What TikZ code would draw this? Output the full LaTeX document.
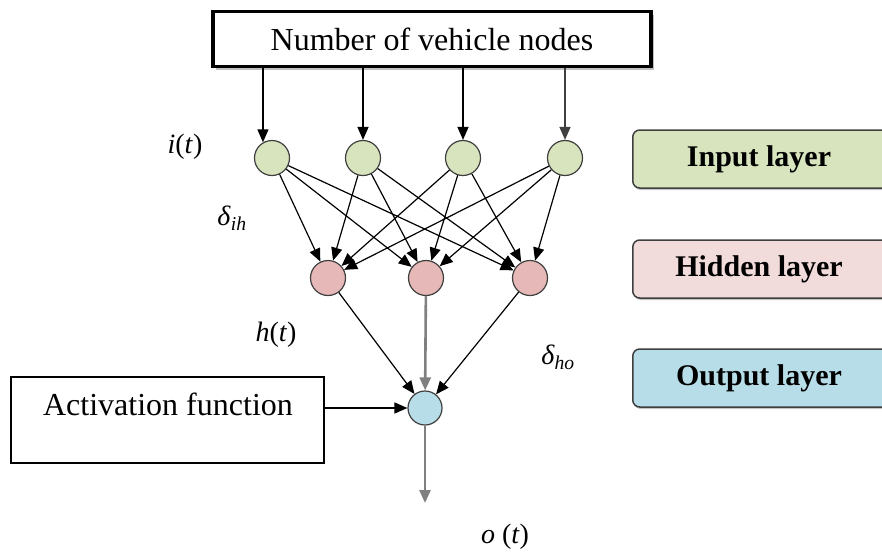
\documentclass[tikz,border=0pt]{standalone}
\usepackage{fontspec}
\setmainfont{Liberation Serif}
\usetikzlibrary{arrows.meta,shadows,calc}
\definecolor{ingreen}{HTML}{D7E4BD}
\definecolor{hidpink}{HTML}{E6B9B8}
\definecolor{hidbox}{HTML}{F2DCDB}
\definecolor{outblue}{HTML}{B7DEE8}
\definecolor{edgegray}{HTML}{3F3F3F}
\tikzset{
  neuron/.style={circle, draw=edgegray, line width=1.2pt, minimum size=35pt, inner sep=0pt},
  tip/.style={-{Triangle[length=13pt,width=11pt]}},
  arr/.style={tip, line width=1.4pt, black},
  layerbox/.style={rounded corners=7pt, draw=edgegray, line width=1.5pt, minimum height=58pt, minimum width=270pt, anchor=west,
    drop shadow={shadow xshift=1pt, shadow yshift=-2pt, opacity=0.45}},
  layertext/.style={font=\fontsize{30}{36}\selectfont\bfseries},
  lbl/.style={font=\fontsize{28}{34}\selectfont},
}
\begin{document}
\begin{tikzpicture}[x=1pt,y=-1pt]
\useasboundingbox (0,0) rectangle (882,552);
\clip (0,0) rectangle (882,552);
\fill[white] (0,0) rectangle (882,552);
% top box
\node[draw, line width=3.2pt, fill=white, minimum width=438pt, minimum height=55pt, inner sep=0pt,
  drop shadow={shadow xshift=2.5pt, shadow yshift=-3pt, opacity=0.5},
  font=\fontsize{32}{38}\selectfont] (top) at (432,39) {Number of vehicle nodes};
% input nodes
\node[neuron, fill=ingreen] (i1) at (272,158) {};
\node[neuron, fill=ingreen] (i2) at (363,158) {};
\node[neuron, fill=ingreen] (i3) at (463,158) {};
\node[neuron, fill=ingreen] (i4) at (565,158) {};
% hidden nodes
\node[neuron, fill=hidpink] (h1) at (328,278) {};
\node[neuron, fill=hidpink] (h2) at (426,278) {};
\node[neuron, fill=hidpink] (h3) at (530,278) {};
% output node
\node[neuron, fill=outblue, minimum size=34pt] (o) at (425,408) {};
% arrows from top box
\draw[arr] (top.south -| i1.120) -- (i1.120);
\draw[arr] (top.south -| i2) -- (i2.north);
\draw[arr] (top.south -| i3) -- (i3.north);
\draw[arr, draw=black!75] (top.south -| i4) -- (i4.north);
% input to hidden
\foreach \i in {1,2,3,4}{
  \foreach \h in {1,2,3}{
    \draw[arr, line width=1.2pt] (i\i) -- (h\h);
  }
}
% hidden to output
\draw[arr, line width=1.2pt] (h1) -- (o);
\draw[arr, draw=black!50, line width=2.6pt] (h2) -- (o);
\draw[arr, line width=1.2pt] (h3) -- (o);
% activation function
\node[draw, line width=1.5pt, minimum width=313pt, minimum height=86pt, anchor=north west] (act) at (10,376) {};
\node[font=\fontsize{32}{38}\selectfont] (acttext) at (168,404) {Activation function};
\draw[arr] (act.east |- o) -- (o.west);
% output
\coordinate (oend) at (425,503);
\draw[arr, draw=black!50, line width=2.6pt] (o.south) -- (oend);
% labels
\node[lbl] (li) at (185,147) {\textit{i}(\textit{t})};
\node[lbl] (ldih) at (232,218) {\textit{δ}\textsubscript{\textit{ih}}};
\node[lbl] (lh) at (276,335) {\textit{h}(\textit{t})};
\node[lbl] (ldho) at (558,357) {\textit{δ}\textsubscript{\textit{ho}}};
\node[lbl] (lo) at (505,537) {\textit{o} (\textit{t})};
% layer boxes
\node[layerbox, fill=ingreen] (inl) at (632,159) {};
\node[layertext] (inlt) at (759,159) {Input layer};
\node[layerbox, fill=hidbox] (hil) at (632,269) {};
\node[layertext] (hilt) at (759,269) {Hidden layer};
\node[layerbox, fill=outblue] (oul) at (632,378) {};
\node[layertext] (oult) at (759,378) {Output layer};
\end{tikzpicture}
\end{document}
